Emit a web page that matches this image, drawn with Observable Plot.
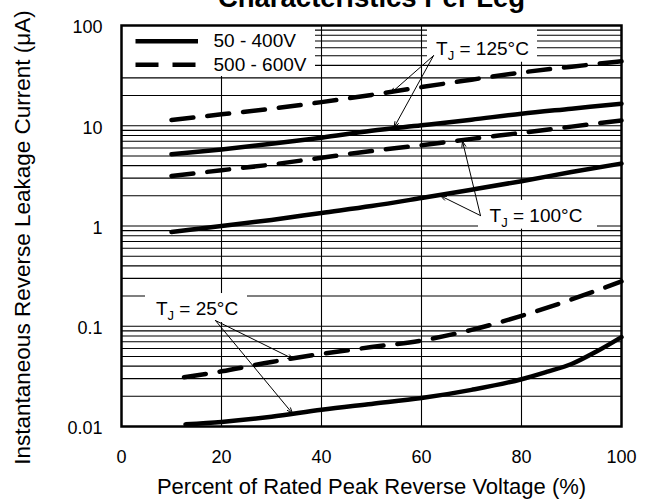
<!DOCTYPE html>
<html>
<head>
<meta charset="utf-8">
<script src="https://cdn.jsdelivr.net/npm/d3@7"></script>
<script src="https://cdn.jsdelivr.net/npm/@observablehq/plot@0.6"></script>
<style>
  html, body { margin: 0; padding: 0; background: white; }
  svg { overflow: hidden; }
</style>
</head>
<body>
<div id="chart"></div>
<script>
// ---- data ----
const titleText = "Characteristics Per Leg";
const xTitle = "Percent of Rated Peak Reverse Voltage (%)";
const yTitle = "Instantaneous Reverse Leakage Current (\u03bcA)";

const xTicks = [0, 20, 40, 60, 80, 100];
const yTicks = [0.01, 0.1, 1, 10, 100];
const yTickLabels = ["0.01", "0.1", "1", "10", "100"];
const xGrid = [20, 40, 60, 80];
const yGrid = [0.01, 0.1, 1, 10].flatMap(d => [1,2,3,4,5,6,7,8,9].map(m => +(m * d).toPrecision(3))).concat([100]);

const seriesNames = ["50 - 400V", "500 - 600V"];

// TJ = 125 C and 100 C curves
const pctHot   = [10, 20, 30, 40, 50, 60, 70, 80, 90, 100];
const i125Std  = [5.2, 5.8, 6.6, 7.6, 8.9, 10.1, 11.5, 13.2, 14.8, 16.6];
const i125Hi   = [11.4, 13.0, 14.8, 17.2, 20.3, 24.3, 28.8, 34, 38.8, 44];
const i100Std  = [0.87, 1.0, 1.15, 1.35, 1.58, 1.9, 2.3, 2.8, 3.45, 4.2];
const i100Hi   = [3.15, 3.6, 4.1, 4.8, 5.6, 6.4, 7.4, 8.5, 9.8, 11.3];
// TJ = 25 C curves
const pct25Std = [12.8, 20, 30, 40, 50, 60, 70, 80, 85, 90, 95, 100];
const i25Std   = [0.0105, 0.0111, 0.0125, 0.0147, 0.0168, 0.0192, 0.0232, 0.0296, 0.035, 0.042, 0.056, 0.078];
const pct25Hi  = [12.5, 20, 30, 40, 50, 60, 70, 80, 90, 100];
const i25Hi    = [0.031, 0.0355, 0.044, 0.053, 0.062, 0.072, 0.092, 0.127, 0.185, 0.28];

// annotations (data coordinates)
const noteLabels = ["TJ = 125\u00b0C", "TJ = 100\u00b0C", "TJ = 25\u00b0C"];
const noteX = [72.2, 82.9, 15.1];
const noteY = [58.6, 1.25, 0.1486];
const boxX1 = [0, 61.2, 71.4, 4.8];
const boxX2 = [38.8, 83.2, 95.2, 25.2];
const boxY1 = [31, 43, 0.93, 0.109];
const boxY2 = [100, 100, 1.8, 0.212];
const arrowX1 = [62.4, 62.4, 71.8, 71.8, 18.8, 18.8];
const arrowY1 = [50, 50, 1.27, 1.27, 0.114, 0.114];
const arrowX2 = [53.8, 54.5, 68.2, 63.8, 34.4, 34.2];
const arrowY2 = [21.0, 9.6, 7.0, 2.0, 0.047, 0.0135];
// legend sample rows
const legendY = [69.7, 40.6];
const legendX1 = 2.8, legendX2 = 15.3, legendTextX = 18.4;

// ---- build tables ----
const toRows = (xs, ys) => xs.map((x, i) => ({x, y: ys[i]}));
const boxes = boxX1.map((x1, i) => ({x1, x2: boxX2[i], y1: boxY1[i], y2: boxY2[i]}));
const arrows = arrowX1.map((x1, i) => ({x1, y1: arrowY1[i], x2: arrowX2[i], y2: arrowY2[i]}));
const notes = noteLabels.map((t, i) => ({t, x: noteX[i], y: noteY[i]}));
const legend = seriesNames.map((t, i) => ({t, y: legendY[i]}));

const solidCurves = [toRows(pctHot, i125Std), toRows(pctHot, i100Std), toRows(pct25Std, i25Std)];
const dashedCurves = [toRows(pctHot, i125Hi), toRows(pctHot, i100Hi), toRows(pct25Hi, i25Hi)];
const DASH = "22,14";
const LW = 4.5;

const chart = Plot.plot({
  width: 645,
  height: 499,
  marginLeft: 121,
  marginRight: 24,
  marginTop: 25,
  marginBottom: 73,
  style: {fontFamily: "'Liberation Sans', Arial, Helvetica, sans-serif", fontSize: "18px", color: "black", background: "white"},
  x: {domain: [0, 100]},
  y: {type: "log", domain: [0.01, 100]},
  marks: [
    Plot.ruleY(yGrid, {stroke: "black", strokeWidth: 1.1}),
    Plot.ruleX(xGrid, {stroke: "black", strokeWidth: 1.1}),
    Plot.rect(boxes, {x1: "x1", x2: "x2", y1: "y1", y2: "y2", fill: "white"}),
    ...solidCurves.map(c => Plot.line(c, {x: "x", y: "y", curve: "monotone-x", stroke: "black", strokeWidth: LW})),
    ...dashedCurves.map(c => Plot.line(c, {x: "x", y: "y", curve: "monotone-x", stroke: "black", strokeWidth: LW, strokeDasharray: DASH})),
    Plot.arrow(arrows, {x1: "x1", y1: "y1", x2: "x2", y2: "y2", stroke: "black", strokeWidth: 1, headLength: 9, headAngle: 40}),
    Plot.text(notes, {x: "x", y: "y", text: "t", fontSize: 19, fill: "black", className: "tjnote"}),
    Plot.link([legend[0]], {x1: () => legendX1, x2: () => legendX2, y1: "y", y2: "y", stroke: "black", strokeWidth: LW}),
    Plot.link([legend[1]], {x1: () => legendX1, x2: () => legendX2, y1: "y", y2: "y", stroke: "black", strokeWidth: LW, strokeDasharray: "23,14"}),
    Plot.text(legend, {x: () => legendTextX, y: "y", text: "t", textAnchor: "start", fontSize: 19, fill: "black"}),
    Plot.frame({stroke: "black", strokeWidth: 2.5}),
    Plot.axisX({ticks: xTicks, tickSize: 0, tickPadding: 24, fontSize: 18, label: null}),
    Plot.axisY({ticks: yTicks, tickFormat: d => yTickLabels[yTicks.indexOf(d)], tickSize: 0, tickPadding: 19, dy: 2, fontSize: 18, label: null}),
    Plot.text([xTitle], {frameAnchor: "bottom", lineAnchor: "middle", dy: 60, fontSize: 22, fill: "black"}),
    Plot.text([yTitle], {frameAnchor: "left", textAnchor: "middle", lineAnchor: "middle", rotate: -90, dx: -99, dy: 11.5, fontSize: 22.5, fill: "black"}),
    Plot.text([titleText], {frameAnchor: "top", lineAnchor: "bottom", dy: -18.5, fontSize: 27.5, fontWeight: "bold", fill: "black"})
  ]
});

// subscript J in the TJ labels
d3.select(chart).selectAll("text").each(function() {
  const el = this;
  const s = el.textContent;
  if (/^TJ = /.test(s) && el.children.length === 0) {
    const rest = s.slice(2);
    el.textContent = "T";
    const j = document.createElementNS("http://www.w3.org/2000/svg", "tspan");
    j.setAttribute("font-size", "13");
    j.setAttribute("dy", "5");
    j.textContent = "J";
    const r = document.createElementNS("http://www.w3.org/2000/svg", "tspan");
    r.setAttribute("dy", "-5");
    r.textContent = rest;
    el.appendChild(j);
    el.appendChild(r);
  }
});

document.getElementById("chart").appendChild(chart);
</script>
</body>
</html>
